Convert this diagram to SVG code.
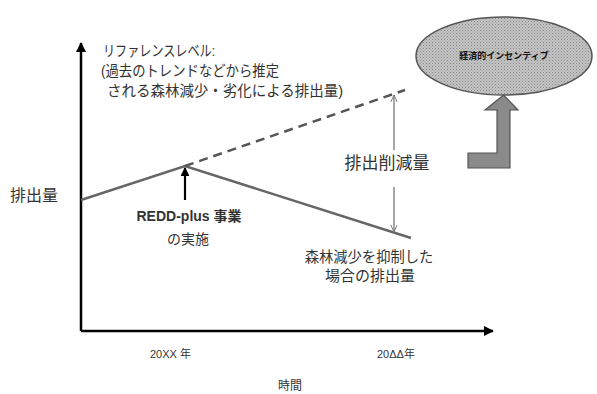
<svg xmlns="http://www.w3.org/2000/svg" width="597" height="394" viewBox="0 0 597 394">
<style>
  .t { font-family: "Liberation Sans", "Noto Sans CJK JP", sans-serif; fill: #333; }
  .m { font-size: 15px; }
  .s { font-size: 11px; }
</style>
<defs>
  <marker id="blk" viewBox="0 0 10 10" refX="9" refY="5" markerWidth="4" markerHeight="4" orient="auto">
    <path d="M0,0 L10,5 L0,10 z" fill="#000"/>
  </marker>
  <marker id="gry" viewBox="0 0 10 10" refX="9" refY="5" markerWidth="8" markerHeight="8" orient="auto" markerUnits="userSpaceOnUse">
    <path d="M0,1 L9,5 L0,9" fill="none" stroke="#777" stroke-width="1.2"/>
  </marker>
  <pattern id="dots" width="3" height="3" patternUnits="userSpaceOnUse">
    <rect width="3" height="3" fill="#c4c4c4"/>
    <rect width="1" height="1" fill="#8a8a8a"/>
    <rect x="1.5" y="1.5" width="1" height="1" fill="#9a9a9a"/>
  </pattern>
</defs>
<rect width="597" height="394" fill="#fff"/>
<g id="connectors">
  <line x1="81" y1="331" x2="81" y2="43" stroke="#000" stroke-width="2.5" marker-end="url(#blk)"/>
  <line x1="81" y1="331" x2="493" y2="331" stroke="#000" stroke-width="2.5" marker-end="url(#blk)"/>
  <polyline points="81,200 185,166 411,238" fill="none" stroke="#666" stroke-width="2.5"/>
  <line x1="185" y1="166" x2="405" y2="90" stroke="#555" stroke-width="2.5" stroke-dasharray="9,6"/>
  <line x1="185" y1="200" x2="185" y2="168" stroke="#000" stroke-width="2.2" marker-end="url(#blk)"/>
  <line x1="394" y1="150" x2="394" y2="95" stroke="#777" stroke-width="1.3" marker-end="url(#gry)"/>
  <line x1="394" y1="187" x2="394" y2="232" stroke="#777" stroke-width="1.3" marker-end="url(#gry)"/>
  <path d="M468,153 L497,153 L497,110 L485,110 L503.5,95 L518,110 L510,110 L510,168 L468,168 Z" fill="#8a8a8a" stroke="#555" stroke-width="1.2"/>
</g>
<g id="incentive">
  <ellipse cx="504" cy="56" rx="88" ry="39" fill="url(#dots)" stroke="#555" stroke-width="1.5"/>
  <text x="504" y="56" text-anchor="middle" dominant-baseline="central" font-family="'Liberation Sans','Noto Sans CJK JP',sans-serif" font-size="9" font-weight="bold" fill="#111">経済的インセンティブ</text>
</g>
<g id="reference-label">
  <text class="t m" x="103" y="56" textLength="112" lengthAdjust="spacingAndGlyphs">リファレンスレベル:</text>
  <text class="t m" x="101" y="76" textLength="178" lengthAdjust="spacingAndGlyphs">(過去のトレンドなどから推定</text>
  <text class="t m" x="107" y="96" textLength="236" lengthAdjust="spacingAndGlyphs">される森林減少・劣化による排出量)</text>
</g>
<g id="y-label"><text class="t" x="10" y="201" font-size="16">排出量</text></g>
<g id="redd">
  <text class="t" x="189" y="221" font-size="14" font-weight="bold" text-anchor="middle" fill="#222">REDD-plus 事業</text>
  <text class="t" x="188" y="244" font-size="14" text-anchor="middle">の実施</text>
</g>
<g id="reduction"><text class="t" x="387" y="169" font-size="17" text-anchor="middle">排出削減量</text></g>
<g id="suppressed">
  <text class="t" x="369" y="262" font-size="14.3" text-anchor="middle">森林減少を抑制した</text>
  <text class="t" x="370" y="281" font-size="15" text-anchor="middle">場合の排出量</text>
</g>
<g id="x-labels">
  <text class="t s" x="150" y="358">20XX 年</text>
  <text class="t s" x="377" y="358">20ΔΔ年</text>
  <text class="t" x="290" y="390" font-size="12" text-anchor="middle">時間</text>
</g>
</svg>
